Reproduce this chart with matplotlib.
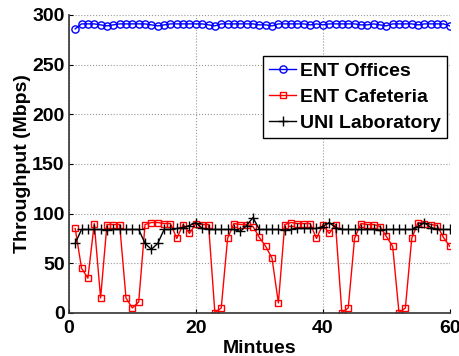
import numpy as np
import matplotlib.pyplot as plt

plt.rcParams['font.family'] = ['Liberation Sans', 'DejaVu Sans']

minutes = np.arange(1, 61)

ent_offices = [286, 291, 291, 291, 290, 289, 290, 291, 291, 291,
               291, 291, 290, 289, 290, 291, 291, 291, 291, 291,
               291, 290, 289, 291, 291, 291, 291, 291, 291, 290,
               290, 289, 291, 291, 291, 291, 291, 290, 291, 290,
               291, 291, 291, 291, 291, 290, 290, 291, 290, 289,
               291, 291, 291, 291, 290, 291, 291, 291, 291, 289]

ent_cafeteria = [85, 45, 35, 90, 15, 89, 89, 89, 15, 5,
                 11, 89, 91, 91, 90, 90, 75, 89, 80, 90,
                 89, 89, 0, 5, 75, 90, 89, 89, 87, 76,
                 67, 55, 10, 89, 91, 90, 90, 90, 75, 89,
                 80, 89, 0, 5, 75, 90, 89, 89, 87, 77,
                 67, 0, 5, 75, 91, 90, 89, 88, 76, 67]

uni_lab = [70, 84, 84, 84, 84, 83, 84, 84, 84, 84,
           84, 70, 64, 70, 84, 84, 85, 86, 88, 91,
           85, 84, 84, 84, 84, 84, 82, 88, 96, 84,
           84, 84, 84, 83, 84, 85, 85, 85, 85, 87,
           91, 86, 84, 84, 84, 84, 84, 84, 83, 84,
           84, 84, 84, 84, 87, 91, 86, 84, 84, 84]

fig = plt.figure(figsize=(4.59, 3.56), dpi=100)
ax = fig.add_axes([0.150, 0.121, 0.830, 0.837])

ax.plot(minutes, ent_offices, color='blue', marker='o', markersize=5.2,
        markerfacecolor='none', linewidth=1, label='ENT Offices')
ax.plot(minutes, ent_cafeteria, color='red', marker='s', markersize=5.0,
        markerfacecolor='none', linewidth=1, label='ENT Cafeteria')
ax.plot(minutes, uni_lab, color='black', marker='+', markersize=7,
        linewidth=1, label='UNI Laboratory')

ax.set_xlim(0, 60)
ax.set_ylim(0, 300)
ax.set_xticks([0, 20, 40, 60])
ax.set_yticks(range(0, 301, 50))
ax.grid(True, linestyle=':', color='#999999', linewidth=0.8)

for side in ('top', 'right'):
    ax.spines[side].set_visible(False)
for side in ('left', 'bottom'):
    ax.spines[side].set_color('#333333')
    ax.spines[side].set_linewidth(1.2)

ax.tick_params(direction='in', length=3, labelsize=14)
ax.tick_params(axis='x', pad=5)
ax.tick_params(axis='y', pad=3)
for lbl in ax.get_xticklabels() + ax.get_yticklabels():
    lbl.set_fontweight('bold')

ax.set_xlabel('Mintues', fontsize=14, fontweight='bold', labelpad=2)
ax.set_ylabel('Throughput (Mbps)', fontsize=14, fontweight='bold', labelpad=1)

leg = ax.legend(loc='upper right', bbox_to_anchor=(0.992, 0.862),
                borderaxespad=0, prop={'weight': 'bold', 'size': 14},
                fancybox=False, framealpha=1, edgecolor='black',
                handlelength=1.4, borderpad=0.3, labelspacing=0.45,
                handletextpad=0.2)
leg.get_frame().set_linewidth(1)

fig.savefig('out.png', dpi=100)
